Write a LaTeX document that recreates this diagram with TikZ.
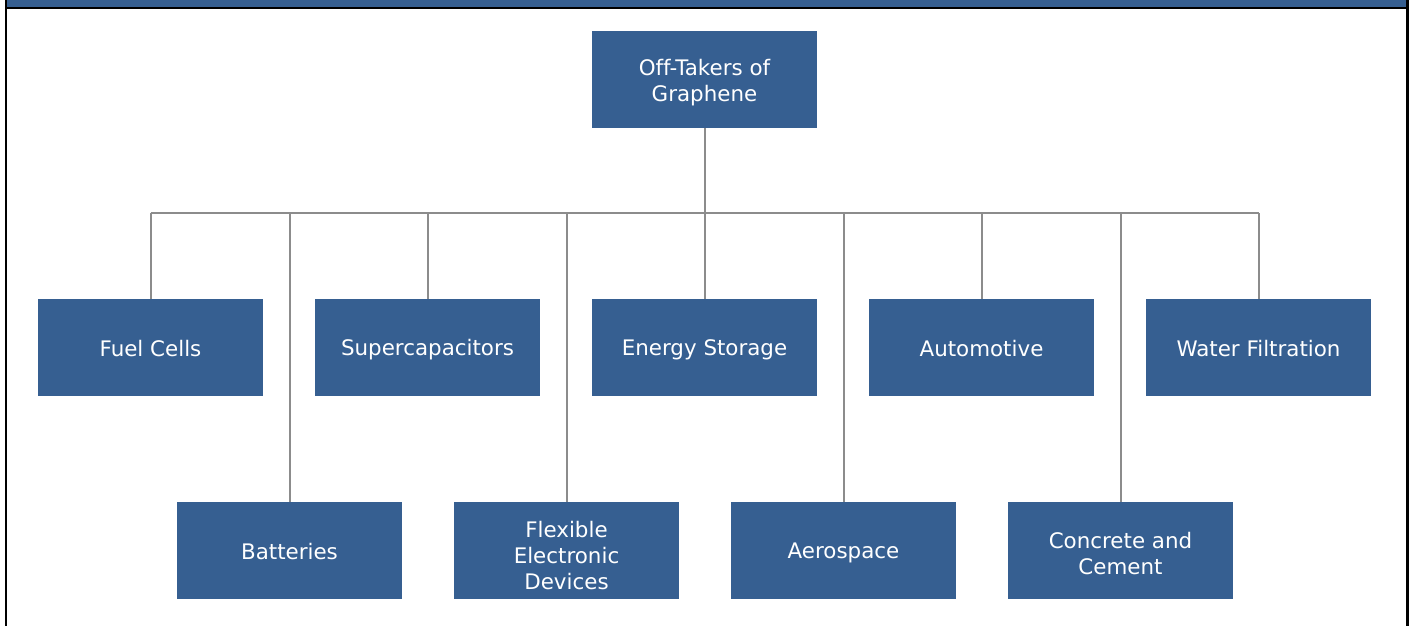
\documentclass[tikz,border=0pt]{standalone}
\usepackage{fontspec}
\setmainfont[Ligatures=NoCommon]{DejaVu Sans}
\definecolor{boxblue}{RGB}{54,95,145}
\definecolor{linegray}{RGB}{140,140,140}
\newcommand{\topstrut}{\rule{0pt}{20pt}}
\newcommand{\botstrut}{\rule[-2.5pt]{0pt}{0pt}}
\begin{document}
\begin{tikzpicture}[x=1pt,y=-1pt,
  cat/.style={rectangle, fill=boxblue, minimum width=225pt, minimum height=97pt, inner sep=0pt,
    text=white, align=center, font=\fontsize{21.4}{26}\selectfont,
    execute at begin node=\topstrut, execute at end node=\botstrut},
  lbl/.style={inner sep=0pt, text=white, align=center, font=\fontsize{21.4}{26}\selectfont},
  link/.style={draw=linegray, line width=2pt}]
\useasboundingbox (0,0) rectangle (1409,626);
\fill[white] (0,0) rectangle (1409,626);
% frame
\fill[boxblue] (6,0) rectangle (1407,6.8);
\draw[black, line width=2pt] (6,7.8) -- (1407,7.8);
\draw[black, line width=2.6pt] (6,0) -- (6,626);
\draw[black, line width=2.6pt] (1407.7,0) -- (1407.7,626);
% nodes
\node[cat] (top) at (704.5,79.5) {};
\node[lbl, yshift=-3pt] (topt) at (top) {Off-Takers of\\Graphene};
\node[cat] (fuel) at (150.5,347.5) {Fuel Cells};
\node[cat] (super) at (427.5,347.5) {Supercapacitors};
\node[cat] (energy) at (704.5,347.5) {Energy Storage};
\node[cat] (auto) at (981.5,347.5) {Automotive};
\node[cat] (water) at (1258.5,347.5) {Water Filtration};
\node[cat] (batt) at (289.5,550.5) {Batteries};
\node[cat] (flex) at (566.5,550.5) {};
\node[lbl, yshift=-5pt] (flext) at (flex) {Flexible\\Electronic\\Devices};
\node[cat] (aero) at (843.5,550.5) {Aerospace};
\node[cat] (conc) at (1120.5,550.5) {};
\node[lbl, yshift=-3pt] (conct) at (conc) {Concrete and\\Cement};
% bus
\coordinate (busL) at (150.5,213);
\coordinate (busR) at (1258.5,213);
\draw[link] (top.south) -- (top.south |- busL);
\draw[link] (busL) -- (busR);
\foreach \n in {fuel,super,energy,auto,water,batt,flex,aero,conc}{
  \draw[link] (\n.north |- busL) -- (\n.north);
}
\end{tikzpicture}
\end{document}
